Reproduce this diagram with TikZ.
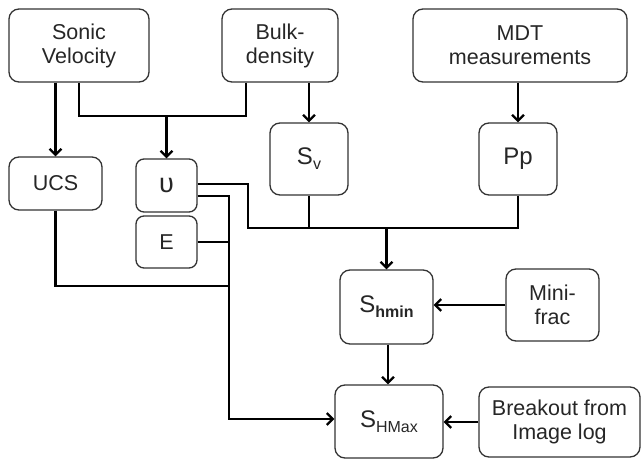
\documentclass[tikz,border=0pt]{standalone}
\usepackage{fontspec}
\setmainfont{Liberation Sans}
\usetikzlibrary{arrows.meta}
\newcommand{\bigS}[2]{{\fontsize{24}{25}\selectfont S}\raisebox{-5pt}{\fontsize{16}{16}\selectfont #2#1}}
\begin{document}
\begin{tikzpicture}[x=1pt,y=-1pt,
  box/.style={draw=black!80,line width=1.3pt,rounded corners=10pt,align=center,
    inner sep=0pt,font=\fontsize{21.5}{24}\selectfont,text=black!85},
  link/.style={line width=2.8pt,black},
  arr/.style={link,-{Straight Barb[length=6pt,width=12pt,line width=2.2pt]}}]
\useasboundingbox (0,0) rectangle (641,461);
\node[box,minimum width=140pt,minimum height=73pt] (sonic) at (79,45.5) {Sonic\\Velocity};
\node[box,minimum width=116pt,minimum height=73pt] (bulk) at (280,45.5) {Bulk-\\density};
\node[box,minimum width=214pt,minimum height=73pt] (mdt) at (520,45.5) {MDT\\measurements};
\node[box,minimum width=93pt,minimum height=53pt] (ucs) at (55.5,183.5) {UCS};
\node[box,minimum width=61pt,minimum height=53pt,rounded corners=8pt] (u) at (166.5,185.5) {{\fontsize{27}{27}\selectfont υ}};
\node[box,minimum width=61pt,minimum height=52pt,rounded corners=8pt] (e) at (166.5,242) {E};
\node[box,minimum width=78pt,minimum height=72pt] (sv) at (309,159) {\bigS{v}{}};
\node[box,minimum width=78pt,minimum height=72pt] (pp) at (518,159) {{\fontsize{24}{25}\selectfont Pp}};
\node[box,minimum width=93pt,minimum height=74pt] (shmin) at (386.5,307) {\bigS{hmin}{\bfseries}};
\node[box,minimum width=93pt,minimum height=72pt] (mini) at (552.5,305) {Mini-\\frac};
\node[box,minimum width=108pt,minimum height=73pt] (shmax) at (389,421.5) {\bigS{HMax}{}};
\node[box,minimum width=161pt,minimum height=70pt] (brk) at (559.5,422) {Breakout from\\Image log};
% junctions
\coordinate (j1) at (166.5,116);
\coordinate (j2) at (386.5,228);
\coordinate (c1) at (248,228);
\coordinate (c2) at (229,196);
\coordinate (k) at (229,419);
\coordinate (m) at (388,0);
% connectors
\draw[arr] (sonic.south -| ucs.north) -- (ucs.north);
\draw[link] (sonic.south) |- (j1);
\draw[link] ([xshift=-34pt]bulk.south) |- (j1);
\draw[arr] (j1) -- (u.north);
\draw[arr] (bulk.south -| sv.north) -- (sv.north);
\draw[arr] (mdt.south -| pp.north) -- (pp.north);
\draw[link] (sv.south) |- (j2);
\draw[link] (pp.south) |- (j2);
\draw[link] (u.east |- 0,184) -| (c1) -- (j2);
\draw[arr] (j2) -- (shmin.north);
\draw[arr] (u.east |- c2) -- (c2) -- (k) -- (shmax.west |- k);
\draw[link] (e.east) -- (e.east -| k);
\draw[link] (ucs.south) |- (k |- 0,286);
\draw[arr] (mini.west) -- (mini.west -| shmin.east);
\draw[arr] (m |- shmin.south) -- (m |- shmax.north);
\draw[arr] (brk.west) -- (brk.west -| shmax.east);
\end{tikzpicture}
\end{document}
